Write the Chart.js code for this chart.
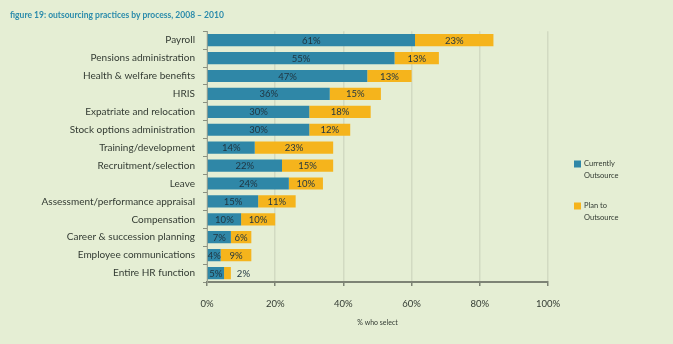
<!DOCTYPE html>
<html>
<head>
<meta charset="utf-8">
<script src="https://cdn.jsdelivr.net/npm/chart.js@4"></script>
<style>
  html, body { margin: 0; padding: 0; background: #e5eed4; }
  canvas { display: block; }
</style>
</head>
<body>
<canvas id="chart" width="673" height="344"></canvas>
<script>
// processes, top to bottom
var processes = [
    'Payroll',
    'Pensions administration',
    'Health & welfare benefits',
    'HRIS',
    'Expatriate and relocation',
    'Stock options administration',
    'Training/development',
    'Recruitment/selection',
    'Leave',
    'Assessment/performance appraisal',
    'Compensation',
    'Career & succession planning',
    'Employee communications',
    'Entire HR function'
]
var currentlyOutsource = [61, 55, 47, 36, 30, 30, 14, 22, 24, 15, 10, 7, 4, 5]
var planToOutsource = [23, 13, 13, 15, 18, 12, 23, 15, 10, 11, 10, 6, 9, 2]
var xTicks = [0, 20, 40, 60, 80, 100]

var blue = '#2f87a7'
var orange = '#f5b41c'
var textColor = '#333b33'

// value labels inside the bar pieces
var barLabels = {
    id: 'barLabels',
    afterDatasetsDraw(chart) {
        var ctx = chart.ctx
        var last = chart.data.datasets.length - 1
        ctx.save()
        ctx.font = '9.5px Lato'
        ctx.textBaseline = 'middle'
        chart.data.datasets.forEach((ds, i) => {
            var meta = chart.getDatasetMeta(i)
            meta.data.forEach((bar, j) => {
                var txt = ds.data[j] + '%'
                var w = ctx.measureText(txt).width
                var left = Math.min(bar.x, bar.base)
                var right = Math.max(bar.x, bar.base)
                ctx.fillStyle = '#1f3440'
                // only the outer piece gets pushed out past the bar end
                if (i == last && right - left < w + 2) {
                    ctx.textAlign = 'left'
                    ctx.fillText(txt, right + 6, bar.y + 0.5)
                } else {
                    ctx.textAlign = 'center'
                    ctx.fillText(txt, (left + right) / 2, bar.y + 0.5)
                }
            })
        })
        ctx.restore()
    }
}

// legend at the right, two lines per entry
var sideLegend = {
    id: 'sideLegend',
    afterDraw(chart) {
        var ctx = chart.ctx
        ctx.save()
        ctx.font = '7.5px Lato'
        ctx.textBaseline = 'middle'
        ctx.textAlign = 'left'
        var y = 164
        chart.data.datasets.forEach(ds => {
            ctx.fillStyle = ds.backgroundColor
            ctx.fillRect(574, y - 3.5, 7, 7)
            ctx.fillStyle = textColor
            ds.legendLines.forEach((line, k) => {
                ctx.fillText(line, 584, y + k * 12)
            })
            y += 42
        })
        ctx.restore()
    }
}

new Chart(document.getElementById('chart'), {
    type: 'bar',
    data: {
        labels: processes,
        datasets: [{
            label: 'Currently Outsource',
            legendLines: ['Currently', 'Outsource'],
            data: currentlyOutsource,
            backgroundColor: blue,
            barPercentage: 0.68,
            categoryPercentage: 1
        }, {
            label: 'Plan to Outsource',
            legendLines: ['Plan to', 'Outsource'],
            data: planToOutsource,
            backgroundColor: orange,
            barPercentage: 0.68,
            categoryPercentage: 1
        }]
    },
    options: {
        indexAxis: 'y',
        responsive: false,
        animation: false,
        layout: {
            padding: { left: 10, right: 125, top: 0, bottom: 17 }
        },
        plugins: {
            legend: { display: false },
            tooltip: { enabled: false },
            title: {
                display: true,
                text: 'figure 19: outsourcing practices by process, 2008 \u2013 2010',
                align: 'start',
                color: '#2b8bab',
                font: { family: 'Lato', size: 8.5, weight: 'bold' },
                padding: { top: 10, bottom: 11 }
            }
        },
        scales: {
            x: {
                stacked: true,
                min: 0,
                max: 100,
                afterBuildTicks: scale => {
                    scale.ticks = xTicks.map(v => ({ value: v }))
                },
                afterFit: scale => { scale.height = 45 },
                ticks: {
                    color: textColor,
                    font: { family: 'Lato', size: 9.5 },
                    padding: 12,
                    callback: v => v + '%'
                },
                grid: {
                    color: '#d2dac2',
                    lineWidth: 1.5,
                    tickColor: '#7d8375',
                    tickLength: 4
                },
                border: { color: '#7d8375', width: 2 },
                title: {
                    display: true,
                    text: '% who select',
                    color: textColor,
                    font: { family: 'Lato', size: 7 },
                    padding: 0
                }
            },
            y: {
                stacked: true,
                afterFit: scale => { scale.width = 197 },
                ticks: {
                    color: textColor,
                    font: { family: 'Lato', size: 10 },
                    padding: 8
                },
                grid: {
                    drawOnChartArea: false,
                    tickColor: '#8a9080',
                    tickLength: 4
                },
                border: { color: '#9aa090', width: 1 }
            }
        }
    },
    plugins: [barLabels, sideLegend]
})
</script>
</body>
</html>
